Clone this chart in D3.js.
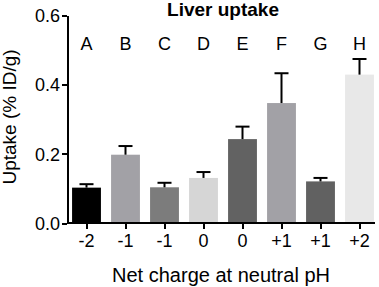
<!DOCTYPE html>
<html>
<head>
<meta charset="utf-8">
<script src="https://cdn.jsdelivr.net/npm/d3@7"></script>
<style>
  body { margin: 0; background: #fff; }
  svg text { font-family: "Liberation Sans", Arial, sans-serif; fill: #000; }
  .axis path, .axis line { stroke: #000; stroke-width: 2; shape-rendering: crispEdges; }
</style>
</head>
<body>
<div id="chart"></div>
<script>
// data
var groups  = ["A", "B", "C", "D", "E", "F", "G", "H"];
var charges = ["-2", "-1", "-1", "0", "0", "+1", "+1", "+2"];
var uptake  = [0.102, 0.197, 0.103, 0.130, 0.242, 0.346, 0.120, 0.428];
var errUp   = [0.112, 0.222, 0.116, 0.147, 0.278, 0.432, 0.130, 0.473];
var colors  = ["#000000", "#a2a1a6", "#7c7c7c", "#d6d6d6", "#626262", "#a2a1a6", "#616161", "#e8e8e8"];
var yTicks  = [0, 0.2, 0.4, 0.6];

var W = 379, H = 287;
var margin = { top: 15, right: 0, bottom: 64, left: 67 };
var width = W - margin.left - margin.right,
    height = H - margin.top - margin.bottom;

var svg = d3.select("#chart").append("svg")
    .attr("width", W)
    .attr("height", H);

var g = svg.append("g")
    .attr("transform", "translate(" + margin.left + "," + margin.top + ")");

var x = d3.scaleBand()
    .domain(d3.range(groups.length))
    .range([0, width])
    .paddingInner(0.26)
    .paddingOuter(0.13);

var y = d3.scaleLinear()
    .domain([0, 0.6])
    .range([height, 0]);

var data = groups.map(function(d, i) {
    return { group: d, charge: charges[i], value: uptake[i], err: errUp[i], color: colors[i] };
});

// bars
g.selectAll(".bar")
    .data(data)
    .enter().append("rect")
    .attr("class", "bar")
    .attr("x", function(d, i) { return x(i); })
    .attr("width", x.bandwidth())
    .attr("y", function(d) { return y(d.value); })
    .attr("height", function(d) { return y(0) - y(d.value); })
    .attr("fill", function(d) { return d.color; });

// error bars (upper only)
var capW = 14;
var eb = g.selectAll(".err")
    .data(data)
    .enter().append("g")
    .attr("class", "err")
    .attr("stroke", "#000")
    .attr("stroke-width", 2);

eb.append("line")
    .attr("x1", function(d, i) { return x(i) + x.bandwidth() / 2; })
    .attr("x2", function(d, i) { return x(i) + x.bandwidth() / 2; })
    .attr("y1", function(d) { return y(d.value); })
    .attr("y2", function(d) { return y(d.err); });

eb.append("line")
    .attr("x1", function(d, i) { return x(i) + x.bandwidth() / 2 - capW / 2; })
    .attr("x2", function(d, i) { return x(i) + x.bandwidth() / 2 + capW / 2; })
    .attr("y1", function(d) { return y(d.err); })
    .attr("y2", function(d) { return y(d.err); });

// group letters
g.selectAll(".grp")
    .data(data)
    .enter().append("text")
    .attr("class", "grp")
    .attr("x", function(d, i) { return x(i) + x.bandwidth() / 2; })
    .attr("y", 35)
    .attr("text-anchor", "middle")
    .style("font-size", "18px")
    .text(function(d) { return d.group; });

// axes
var yAxis = d3.axisLeft(y)
    .tickValues(yTicks)
    .tickFormat(d3.format(".1f"))
    .tickSize(5)
    .tickSizeOuter(0)
    .tickPadding(2);

var gy = g.append("g")
    .attr("class", "y-axis axis")
    .call(yAxis);
gy.selectAll("text").style("font-size", "18px").attr("dy", "0.36em");

var xAxis = d3.axisBottom(x)
    .tickFormat(function(i) { return charges[i]; })
    .tickSize(6)
    .tickSizeOuter(0)
    .tickPadding(5);

var gx = g.append("g")
    .attr("class", "x-axis axis")
    .attr("transform", "translate(0," + height + ")")
    .call(xAxis);
gx.select(".domain").attr("d", "M0,0H" + (width - 4));
gx.selectAll("text").style("font-size", "18px");

// titles
svg.append("text")
    .attr("x", 223)
    .attr("y", 16)
    .attr("text-anchor", "middle")
    .style("font-size", "19px")
    .style("font-weight", "bold")
    .text("Liver uptake");

svg.append("text")
    .attr("x", 221)
    .attr("y", 282)
    .attr("text-anchor", "middle")
    .style("font-size", "20px")
    .text("Net charge at neutral pH");

svg.append("text")
    .attr("transform", "translate(16," + 117 + ") rotate(-90)")
    .attr("text-anchor", "middle")
    .style("font-size", "19px")
    .text("Uptake (% ID/g)");
</script>
</body>
</html>
